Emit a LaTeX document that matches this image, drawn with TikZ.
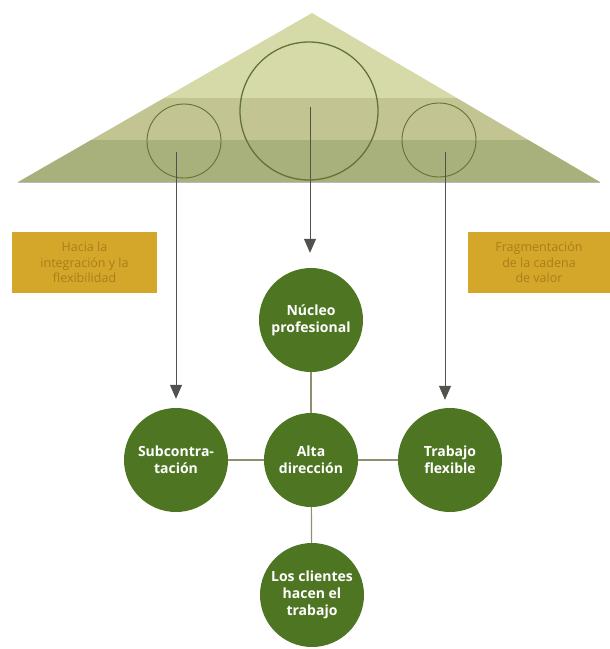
\documentclass[tikz,border=0pt]{standalone}
\usepackage{fontspec}
\setmainfont{Open Sans}
\usepackage{tikz}
\usetikzlibrary{positioning, arrows.meta}

\definecolor{bandtop}{RGB}{214,218,168}
\definecolor{bandmid}{RGB}{194,196,146}
\definecolor{bandlow}{RGB}{168,176,124}
\definecolor{ringcol}{RGB}{98,116,52}
\definecolor{nodegreen}{RGB}{78,118,34}
\definecolor{ochre}{RGB}{212,166,42}
\definecolor{ochretext}{RGB}{168,128,24}
\definecolor{arrowgray}{RGB}{80,82,78}
\definecolor{linkgray}{RGB}{140,146,112}

\tikzset{
  bignode/.style={circle, fill=nodegreen, text=white, minimum size=104pt, inner sep=0pt,
    align=center, font=\fontsize{14}{17}\selectfont\bfseries},
  tagbox/.style={rectangle, fill=ochre, text=ochretext, inner sep=0pt, align=center,
    font=\fontsize{12.5}{15.5}\selectfont},
  ring/.style={draw=ringcol, line width=0.9pt},
  arr/.style={draw=arrowgray, line width=1pt, -{Triangle[length=14pt,width=12pt]}},
  link/.style={draw=linkgray, line width=1.2pt}
}

\begin{document}
\begin{tikzpicture}[x=1pt,y=1pt,yscale=-1]
\useasboundingbox (0,0) rectangle (610,649);

% pyramid with three bands
\begin{scope}
\clip (18,182) -- (312,13) -- (600,182) -- cycle;
\fill[bandtop] (0,0) rectangle (610,98);
\fill[bandmid] (0,98) rectangle (610,140);
\fill[bandlow] (0,140) rectangle (610,182);
\end{scope}
\draw[gray!55, line width=0.8pt] (18,182) -- (600,182);

% rings in the pyramid
\draw[ring] (184,141) circle [radius=37];
\draw[ring, line width=1.3pt] (309,111) circle [radius=69];
\draw[ring] (439,140) circle [radius=37];

% starts of the arrows
\coordinate (lstart) at (176,152);
\coordinate (mstart) at (310,107);
\coordinate (rstart) at (445,152);

% Text Node
\node[tagbox, minimum width=145pt, minimum height=61pt] (hacia) at (84.5,262.5) {Hacia la\\integración y la\\flexibilidad};
% Text Node
\node[tagbox, minimum width=142pt, minimum height=61pt] (frag) at (539,262.5) {Fragmentación\\de la cadena\\de valor};

% circles
\node[bignode] (nucleo) at (311,320) {Núcleo\\profesional};
\node[bignode, minimum size=94pt] (alta) at (311,460) {Alta\\dirección};
\node[bignode] (sub) at (176,460) {Subcontra-\\tación};
\node[bignode] (trab) at (450,460) {Trabajo\\flexible};
\node[bignode] (clientes) at (312,595) {Los clientes\\hacen el\\trabajo};

\draw[link] (alta) -- (nucleo);
\draw[link] (alta) -- (sub);
\draw[link] (alta) -- (trab);
\draw[link] (alta) -- (clientes);

\draw[arr, shorten >=9pt] (lstart) -- (lstart |- sub.north);
\draw[arr, shorten >=15pt] (mstart) -- (mstart |- nucleo.north);
\draw[arr, shorten >=8pt] (rstart) -- (rstart |- trab.north);

\end{tikzpicture}
\end{document}
